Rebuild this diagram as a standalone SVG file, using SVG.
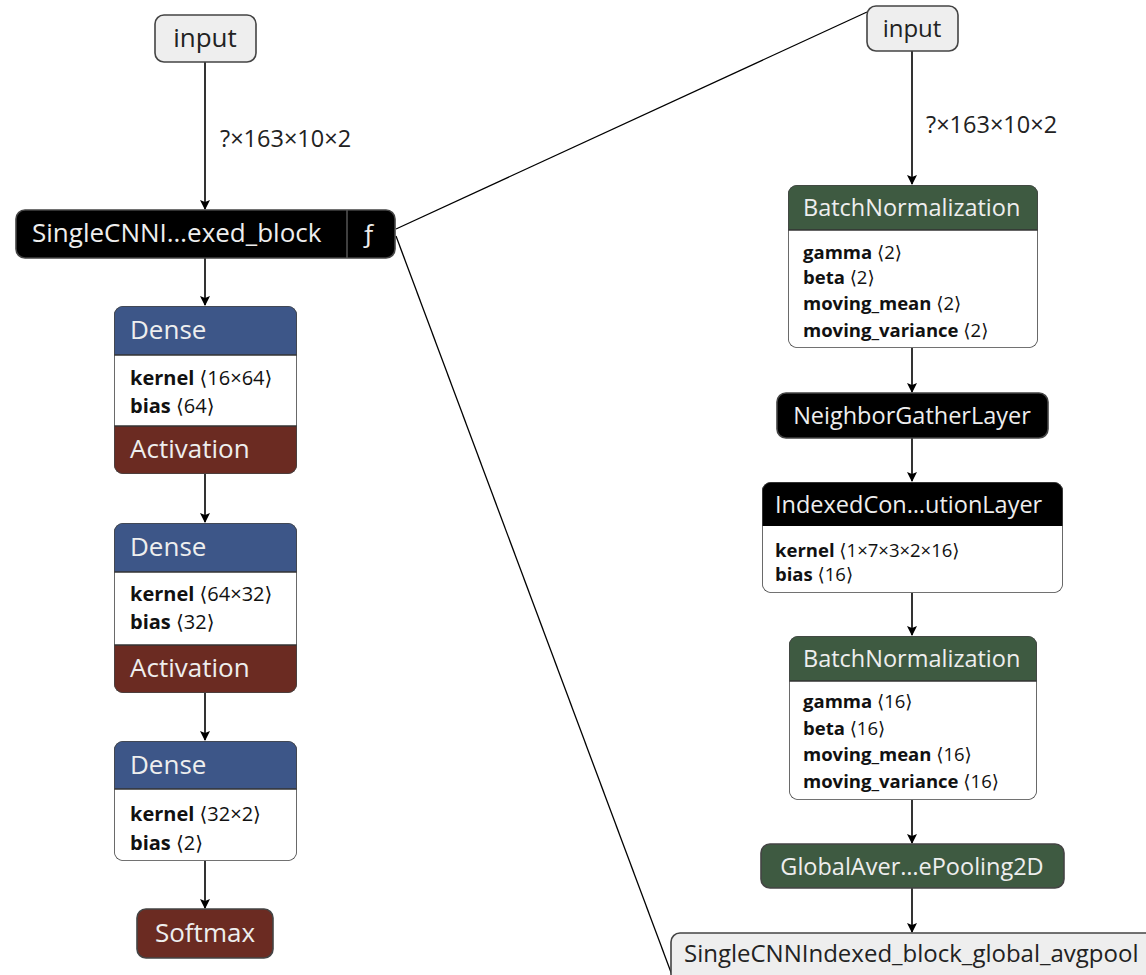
<svg xmlns="http://www.w3.org/2000/svg" width="1146" height="975" viewBox="0 0 1146 975">
<defs>
<marker id="arr" markerWidth="10" markerHeight="10" refX="9" refY="5" orient="auto" markerUnits="userSpaceOnUse">
<path d="M0,0 L10,5 L0,10 L2,5 Z" fill="#000"/>
</marker>
<clipPath id="c1"><rect x="114" y="306" width="183" height="168" rx="9"/></clipPath>
<clipPath id="c2"><rect x="114" y="523" width="183" height="170" rx="9"/></clipPath>
<clipPath id="c3"><rect x="114" y="741" width="183" height="120" rx="9"/></clipPath>
<clipPath id="c4"><rect x="788" y="185" width="250" height="163" rx="9"/></clipPath>
<clipPath id="c5"><rect x="762" y="482" width="301" height="111" rx="9"/></clipPath>
<clipPath id="c6"><rect x="789" y="636" width="248" height="164" rx="9"/></clipPath>
</defs>
<style>
text{font-family:"Open Sans","Noto Sans","DejaVu Sans",sans-serif;}
.t{font-size:26px;fill:#eee;}
.tr{font-size:23.5px;fill:#eee;}
.td{font-size:26px;fill:#222;}
.b{font-size:20px;fill:#111;}
.br{font-size:18.5px;fill:#111;}
.bb{font-weight:bold;}
.lbl{font-size:23.5px;fill:#222;}
.edge{stroke:#000;stroke-width:1.6;fill:none;}
.ol{fill:none;stroke:#444;stroke-width:1.6;}
.blue{fill:#3d5688;}
.brown{fill:#6b2b22;}
.green{fill:#3e5a41;}
.blk{fill:#000;}
.gray{fill:#eeeeee;stroke:#444;stroke-width:1.6;}
</style>
<rect width="1146" height="975" fill="#fff"/>

<g id="connectors">
<path class="edge" d="M205,62 V209" marker-end="url(#arr)"/>
<path class="edge" d="M205,258 V305" marker-end="url(#arr)"/>
<path class="edge" d="M205,474 V522" marker-end="url(#arr)"/>
<path class="edge" d="M205,693 V740" marker-end="url(#arr)"/>
<path class="edge" d="M205,861 V908" marker-end="url(#arr)"/>
<path class="edge" d="M912,51 V184" marker-end="url(#arr)"/>
<path class="edge" d="M912,348 V392" marker-end="url(#arr)"/>
<path class="edge" d="M912,438 V481" marker-end="url(#arr)"/>
<path class="edge" d="M912,593 V635" marker-end="url(#arr)"/>
<path class="edge" d="M912,800 V843" marker-end="url(#arr)"/>
<path class="edge" d="M912,888 V932" marker-end="url(#arr)"/>
<path d="M396,229 L867,12" stroke="#000" stroke-width="1.3" fill="none"/>
<path d="M396,236 L672,975" stroke="#000" stroke-width="1.3" fill="none"/>
<text class="lbl" x="220" y="147">?×163×10×2</text>
<text class="lbl" x="926" y="133">?×163×10×2</text>
</g>

<g id="input-left">
<rect class="gray" x="155" y="15" width="101" height="47" rx="9"/>
<text class="td" x="205" y="47" text-anchor="middle">input</text>
</g>

<g id="block">
<rect x="16" y="210" width="379" height="48" rx="9" fill="#000" stroke="#444" stroke-width="1.6"/>
<line x1="347" y1="210" x2="347" y2="258" stroke="#555" stroke-width="1.5"/>
<text class="t" x="32" y="242">SingleCNNI…exed_block</text>
<text class="t" x="361" y="242">ƒ</text>
</g>

<g id="dense1" clip-path="url(#c1)">
<rect x="114" y="306" width="183" height="168" fill="#fff"/>
<rect class="blue" x="114" y="306" width="183" height="49"/>
<rect class="brown" x="114" y="426" width="183" height="48"/>
<line x1="114" y1="355" x2="297" y2="355" stroke="#333" stroke-width="1.5"/>
<line x1="114" y1="426" x2="297" y2="426" stroke="#333" stroke-width="1.5"/>
<text class="t" x="130" y="339">Dense</text>
<text class="b" x="130" y="385"><tspan class="bb">kernel</tspan> ⟨16×64⟩</text>
<text class="b" x="130" y="413"><tspan class="bb">bias</tspan> ⟨64⟩</text>
<text class="t" x="130" y="458">Activation</text>
<rect class="ol" x="114" y="306" width="183" height="168" rx="9"/>
</g>

<g id="dense2" clip-path="url(#c2)">
<rect x="114" y="523" width="183" height="170" fill="#fff"/>
<rect class="blue" x="114" y="523" width="183" height="49"/>
<rect class="brown" x="114" y="645" width="183" height="48"/>
<line x1="114" y1="572" x2="297" y2="572" stroke="#333" stroke-width="1.5"/>
<line x1="114" y1="645" x2="297" y2="645" stroke="#333" stroke-width="1.5"/>
<text class="t" x="130" y="556">Dense</text>
<text class="b" x="130" y="601"><tspan class="bb">kernel</tspan> ⟨64×32⟩</text>
<text class="b" x="130" y="629"><tspan class="bb">bias</tspan> ⟨32⟩</text>
<text class="t" x="130" y="677">Activation</text>
<rect class="ol" x="114" y="523" width="183" height="170" rx="9"/>
</g>

<g id="dense3" clip-path="url(#c3)">
<rect x="114" y="741" width="183" height="120" fill="#fff"/>
<rect class="blue" x="114" y="741" width="183" height="48"/>
<line x1="114" y1="789" x2="297" y2="789" stroke="#333" stroke-width="1.5"/>
<text class="t" x="130" y="774">Dense</text>
<text class="b" x="130" y="821"><tspan class="bb">kernel</tspan> ⟨32×2⟩</text>
<text class="b" x="130" y="850"><tspan class="bb">bias</tspan> ⟨2⟩</text>
<rect class="ol" x="114" y="741" width="183" height="120" rx="9"/>
</g>

<g id="softmax">
<rect class="brown" x="137" y="909" width="136" height="49" rx="9" stroke="#444" stroke-width="1.6"/>
<text class="t" x="205" y="942" text-anchor="middle">Softmax</text>
</g>

<g id="input-right">
<rect class="gray" x="867" y="6" width="91" height="45" rx="9"/>
<text class="td" x="912" y="37" text-anchor="middle" style="font-size:24px">input</text>
</g>

<g id="bn1" clip-path="url(#c4)">
<rect x="788" y="185" width="250" height="163" fill="#fff"/>
<rect class="green" x="788" y="185" width="250" height="45"/>
<line x1="788" y1="230" x2="1038" y2="230" stroke="#333" stroke-width="1.5"/>
<text class="tr" x="803" y="216">BatchNormalization</text>
<text class="br" x="803" y="259"><tspan class="bb">gamma</tspan> ⟨2⟩</text>
<text class="br" x="803" y="284"><tspan class="bb">beta</tspan> ⟨2⟩</text>
<text class="br" x="803" y="310"><tspan class="bb">moving_mean</tspan> ⟨2⟩</text>
<text class="br" x="803" y="337"><tspan class="bb">moving_variance</tspan> ⟨2⟩</text>
<rect class="ol" x="788" y="185" width="250" height="163" rx="9"/>
</g>

<g id="neighbor">
<rect x="777" y="393" width="271" height="45" rx="9" fill="#000" stroke="#444" stroke-width="1.6"/>
<text class="tr" x="912" y="424" text-anchor="middle">NeighborGatherLayer</text>
</g>

<g id="indexedconv" clip-path="url(#c5)">
<rect x="762" y="482" width="301" height="111" fill="#fff"/>
<rect class="blk" x="762" y="482" width="301" height="44"/>
<text class="tr" x="775" y="513">IndexedCon…utionLayer</text>
<text class="br" x="775" y="557"><tspan class="bb">kernel</tspan> ⟨1×7×3×2×16⟩</text>
<text class="br" x="775" y="581"><tspan class="bb">bias</tspan> ⟨16⟩</text>
<rect class="ol" x="762" y="482" width="301" height="111" rx="9"/>
</g>

<g id="bn2" clip-path="url(#c6)">
<rect x="789" y="636" width="248" height="164" fill="#fff"/>
<rect class="green" x="789" y="636" width="248" height="45"/>
<line x1="789" y1="681" x2="1037" y2="681" stroke="#333" stroke-width="1.5"/>
<text class="tr" x="803" y="667">BatchNormalization</text>
<text class="br" x="803" y="708"><tspan class="bb">gamma</tspan> ⟨16⟩</text>
<text class="br" x="803" y="735"><tspan class="bb">beta</tspan> ⟨16⟩</text>
<text class="br" x="803" y="761"><tspan class="bb">moving_mean</tspan> ⟨16⟩</text>
<text class="br" x="803" y="788"><tspan class="bb">moving_variance</tspan> ⟨16⟩</text>
<rect class="ol" x="789" y="636" width="248" height="164" rx="9"/>
</g>

<g id="globalavg">
<rect class="green" x="761" y="844" width="303" height="44" rx="9" stroke="#444" stroke-width="1.6"/>
<text class="tr" x="912" y="875" text-anchor="middle">GlobalAver…ePooling2D</text>
</g>

<g id="avgpool-out">
<rect class="gray" x="671" y="933" width="500" height="60" rx="9"/>
<text class="td" x="684" y="962" style="font-size:24px">SingleCNNIndexed_block_global_avgpool</text>
</g>
</svg>
